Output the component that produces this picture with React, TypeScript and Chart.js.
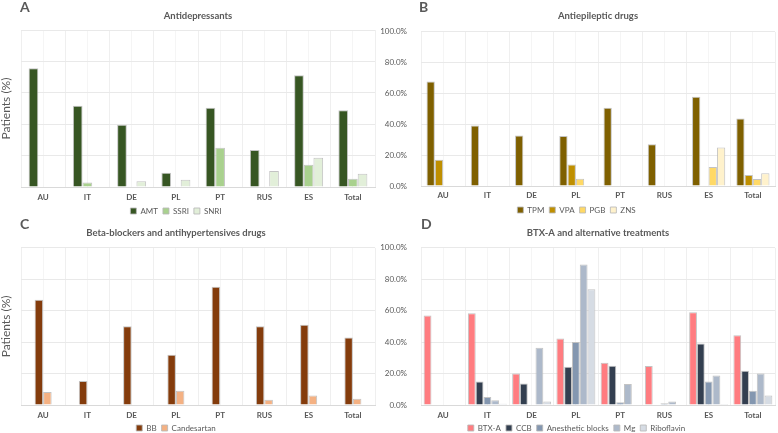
import React, { useEffect, useRef } from "react";
import { Chart, registerables } from "chart.js";

Chart.register(...registerables);

// ---------- data ----------
const categories = ["AU", "IT", "DE", "PL", "PT", "RUS", "ES", "Total"];

// A: Antidepressants
const amt = [75.6, 51.7, 39.6, 9.1, 50.4, 23.5, 71.2, 48.9];
const ssri = [0, 2.8, 0, 0, 25.0, 0, 14.2, 5.3];
const snri = [0, 0, 3.6, 4.6, 0, 10.2, 18.6, 8.5];

// B: Antiepileptic drugs
const tpm = [67.8, 39.3, 32.7, 32.5, 50.8, 27.1, 57.9, 43.8];
const vpa = [17.0, 0, 0, 13.9, 0, 0, 0, 7.1];
const pgb = [0, 0, 0, 4.7, 0, 0, 12.4, 4.6];
const zns = [0, 0, 0, 0, 0, 0, 25.0, 8.3];

// C: Beta-blockers and antihypertensives
const bb = [67.0, 15.3, 50.2, 32.0, 75.3, 50.2, 51.1, 43.0];
const candesartan = [8.2, 0, 0, 9.0, 0, 3.3, 6.0, 3.9];

// D: BTX-A and alternative treatments
const btxa = [57.0, 58.4, 20.1, 42.4, 26.9, 24.8, 59.0, 44.4];
const ccb = [0, 15.0, 13.7, 24.3, 25.0, 0, 39.2, 21.8];
const anestheticBlocks = [0, 5.1, 0, 40.1, 1.7, 1.1, 15.0, 9.1];
const mg = [0, 3.0, 36.5, 89.4, 13.4, 2.3, 18.7, 20.0];
const riboflavin = [0, 0.8, 2.3, 73.6, 0, 0, 0.6, 6.1];

const yTicks = [0, 20, 40, 60, 80, 100];

// ---------- styling ----------
const TEXT = "#595959";
const FONT = "Lato, 'Liberation Sans', sans-serif";

interface Series {
  label: string;
  data: number[];
  color: string;
}

interface PanelSpec {
  letter: string;
  letterLeft: number;
  letterTop: number;
  left: number;
  top: number;
  width: number;
  height: number;
  title: string;
  titleFull: boolean;
  titlePad: { top: number; bottom: number };
  series: Series[];
  catPct: number;
  yWidth: number;
  showYTicks: boolean;
  showYTitle: boolean;
  yTitlePad: number;
  padRight: number;
  xHeight: number;
  xLabelPad: number;
}

const panels: PanelSpec[] = [
  {
    letter: "A",
    letterLeft: 20,
    letterTop: 0,
    left: -23,
    top: 0,
    width: 412,
    height: 225,
    title: "Antidepressants",
    titleFull: false,
    titlePad: { top: 10, bottom: 8.6 },
    series: [
      { label: "AMT", data: amt, color: "#375623" },
      { label: "SSRI", data: ssri, color: "#a9d18e" },
      { label: "SNRI", data: snri, color: "#e2efd9" },
    ],
    catPct: 0.655,
    yWidth: 44,
    showYTicks: false,
    showYTitle: true,
    yTitlePad: 22,
    padRight: 14,
    xHeight: 15,
    xLabelPad: 6,
  },
  {
    letter: "B",
    letterLeft: 419,
    letterTop: 0,
    left: 378,
    top: 0,
    width: 400,
    height: 224,
    title: "Antiepileptic drugs",
    titleFull: false,
    titlePad: { top: 10.5, bottom: 10 },
    series: [
      { label: "TPM", data: tpm, color: "#7f6000" },
      { label: "VPA", data: vpa, color: "#bf8f00" },
      { label: "PGB", data: pgb, color: "#ffd966" },
      { label: "ZNS", data: zns, color: "#fff2cc" },
    ],
    catPct: 0.75,
    yWidth: 43,
    showYTicks: true,
    showYTitle: false,
    yTitlePad: 0,
    padRight: 3,
    xHeight: 15,
    xLabelPad: 5,
  },
  {
    letter: "C",
    letterLeft: 20,
    letterTop: 217,
    left: -23,
    top: 216,
    width: 412,
    height: 226,
    title: "Beta-blockers and antihypertensives drugs",
    titleFull: true,
    titlePad: { top: 11.5, bottom: 9 },
    series: [
      { label: "BB", data: bb, color: "#843c0c" },
      { label: "Candesartan", data: candesartan, color: "#f4b183" },
    ],
    catPct: 0.385,
    yWidth: 44,
    showYTicks: false,
    showYTitle: true,
    yTitlePad: 22,
    padRight: 14,
    xHeight: 14,
    xLabelPad: 5.5,
  },
  {
    letter: "D",
    letterLeft: 421,
    letterTop: 217,
    left: 378,
    top: 216,
    width: 400,
    height: 226,
    title: "BTX-A and alternative treatments",
    titleFull: false,
    titlePad: { top: 11.5, bottom: 9 },
    series: [
      { label: "BTX-A", data: btxa, color: "#ff7c80" },
      { label: "CCB", data: ccb, color: "#333f50" },
      { label: "Anesthetic blocks", data: anestheticBlocks, color: "#8497b0" },
      { label: "Mg", data: mg, color: "#adb9ca" },
      { label: "Riboflavin", data: riboflavin, color: "#d6dce4" },
    ],
    catPct: 0.88,
    yWidth: 43,
    showYTicks: true,
    showYTitle: false,
    yTitlePad: 0,
    padRight: 3,
    xHeight: 14,
    xLabelPad: 5.5,
  },
];

function Panel({ spec }: { spec: PanelSpec }) {
  const ref = useRef<HTMLCanvasElement | null>(null);

  useEffect(() => {
    if (!ref.current) return;
    const chart = new Chart(ref.current, {
      type: "bar",
      data: {
        labels: categories,
        datasets: spec.series.map((s) => ({
          label: s.label,
          data: s.data,
          backgroundColor: s.color,
          borderColor: "rgba(185,185,185,0.85)",
          borderWidth: 1,
          borderSkipped: "start",
          categoryPercentage: spec.catPct,
          barPercentage: 1,
          xAxisID: "x",
          yAxisID: "y",
        })),
      },
      options: {
        animation: false,
        responsive: false,
        maintainAspectRatio: false,
        layout: { padding: { left: 0, right: spec.padRight, top: 0, bottom: 0 } },
        font: { family: FONT },
        plugins: {
          title: {
            display: true,
            text: spec.title,
            fullSize: spec.titleFull,
            padding: spec.titlePad,
            color: TEXT,
            font: { family: FONT, size: 9.5, weight: "bold" },
          },
          legend: {
            display: true,
            position: "bottom",
            labels: {
              boxWidth: 6,
              boxHeight: 6,
              padding: 5,
              color: TEXT,
              font: { family: FONT, size: 8 },
            },
          },
          tooltip: { enabled: false },
        },
        scales: {
          x: {
            type: "category",
            offset: true,
            grid: { offset: true, color: "#efefef", drawTicks: false },
            border: { color: "#d9d9d9" },
            ticks: {
              color: TEXT,
              font: { family: FONT, size: 8, weight: "bold" },
              padding: spec.xLabelPad,
              maxRotation: 0,
              autoSkip: false,
            },
            afterFit: (s: any) => {
              s.height = spec.xHeight;
            },
          },
          x2: {
            type: "category",
            labels: categories,
            position: "top",
            offset: true,
            grid: { offset: false, color: "#f5f5f5", drawTicks: false },
            border: { display: false },
            ticks: { display: false },
            afterFit: (s: any) => {
              s.height = 0;
            },
          },
          y: {
            min: 0,
            max: 100,
            afterBuildTicks: (s: any) => {
              s.ticks = yTicks.map((v) => ({ value: v }));
            },
            grid: { color: "#e9e9e9", drawTicks: false },
            border: { display: false },
            ticks: {
              display: spec.showYTicks,
              padding: 14,
              color: TEXT,
              font: { family: FONT, size: 8 },
              callback: (v: any) => Number(v).toFixed(1) + "%",
            },
            title: {
              display: spec.showYTitle,
              text: "Patients (%)",
              color: TEXT,
              font: { family: FONT, size: 12 },
              padding: { top: spec.yTitlePad, bottom: 0 },
            },
            afterFit: (s: any) => {
              s.width = spec.yWidth;
            },
          },
        },
      } as any,
    });
    return () => chart.destroy();
  }, [spec]);

  return (
    <>
      <canvas
        ref={ref}
        width={spec.width}
        height={spec.height}
        style={{
          position: "absolute",
          left: spec.left,
          top: spec.top,
          width: spec.width,
          height: spec.height,
        }}
      />
      <div
        style={{
          position: "absolute",
          left: spec.letterLeft,
          top: spec.letterTop,
          fontFamily: FONT,
          fontWeight: 700,
          fontSize: 14,
          lineHeight: "14px",
          color: TEXT,
        }}
      >
        {spec.letter}
      </div>
    </>
  );
}

export default function App() {
  return (
    <div
      style={{
        position: "fixed",
        left: 0,
        top: 0,
        width: 778,
        height: 433,
        overflow: "hidden",
        background: "#ffffff",
      }}
    >
      {panels.map((p) => (
        <Panel key={p.letter} spec={p} />
      ))}
    </div>
  );
}
